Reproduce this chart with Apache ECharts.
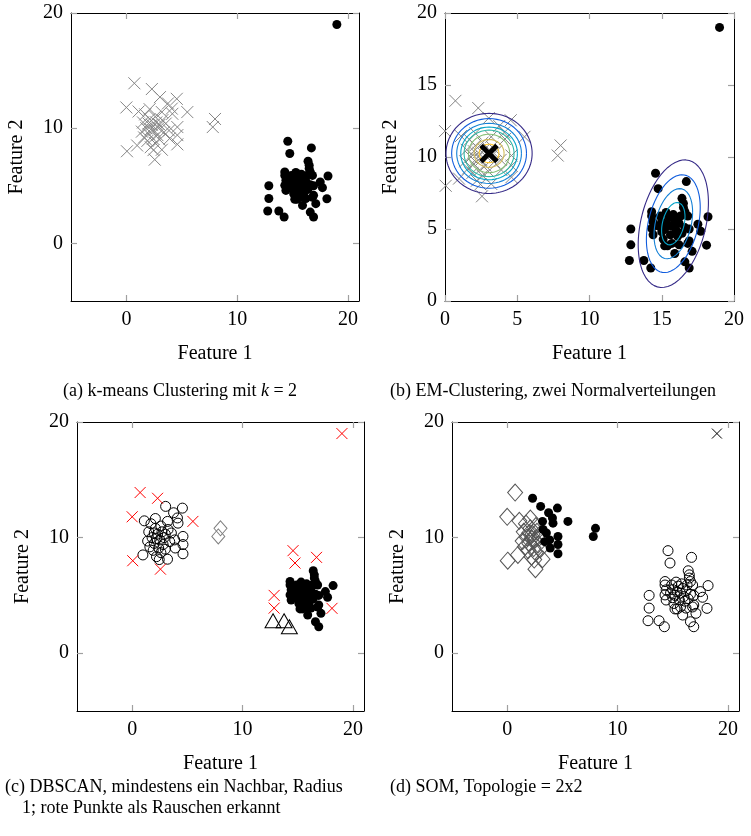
<!DOCTYPE html>
<html><head><meta charset="utf-8">
<script src="https://cdn.jsdelivr.net/npm/echarts@6/dist/echarts.min.js"></script>
<style>html,body{margin:0;padding:0;background:#fff}#c{width:751px;height:836px}</style>
</head><body><div id="c"></div>
<script>
// ---------- data ----------
const feature1 = [
  0.72, 2.3, 0.0, 0.05, 2.56, 5.5, 3.03, 4.55, 3.75, 4.1, 1.1, 0.97, 2.2, 3.2, 4.6, 4.6, 4.6, 3.9, 3.85, 3.4,
  3.25, 3.55, 3.2, 4.15, 2.1, 1.7, 1.5, 1.8, 2.0, 2.3, 2.5, 2.7, 2.4, 2.8, 1.6, 2.9, 2.1, 1.9, 2.6, 3.0,
  2.2, 1.4, 2.0, 2.6, 3.0, 2.45, 7.8, 8.0,
  14.57, 14.75, 16.7, 16.4, 16.5, 16.5, 16.6, 16.8, 18.2, 12.86, 12.86, 12.76, 13.76, 14.24, 18.1, 17.7, 17.5, 16.9, 16.6, 15.9,
  17.1, 16.9, 15.2, 15.4, 14.3, 14.3, 14.4, 14.3, 14.4, 15.3, 15.0, 15.2, 15.5, 15.7, 15.9, 16.0, 16.2, 15.6, 15.1, 16.3,
  15.8, 14.8, 16.1, 15.4, 16.6, 16.4, 15.0, 14.9, 16.9, 15.7, 16.2, 16.8, 19.0
];
const feature2 = [
  13.9, 13.4, 11.8, 8.0, 7.27, 11.4, 12.7, 12.55, 12.15, 11.7, 11.45, 8.5, 8.35, 8.13, 10.1, 9.4, 8.6, 9.1, 9.8, 9.65,
  10.7, 10.4, 11.4, 11.25, 11.65, 11.2, 10.5, 10.0, 9.5, 10.3, 9.8, 10.5, 9.1, 9.4, 9.2, 10.0, 10.8, 8.9, 8.7, 9.0,
  9.9, 9.7, 10.4, 11.0, 10.3, 8.1, 10.1, 10.8,
  8.87, 7.8, 8.29, 7.13, 6.78, 6.5, 6.2, 5.9, 5.85, 5.0, 3.9, 2.81, 2.81, 2.29, 3.88, 4.84, 5.33, 2.29, 2.72, 3.3,
  3.45, 4.17, 3.83, 3.83, 6.2, 5.9, 5.48, 5.04, 4.6, 6.15, 5.5, 5.0, 5.8, 5.2, 5.6, 4.9, 5.4, 4.6, 4.3, 5.9,
  6.0, 5.2, 4.5, 5.3, 5.1, 4.7, 4.8, 5.9, 5.0, 4.0, 3.9, 4.0, 19.0
];
// k-means / EM assignment: 0 = grey cross, 1 = black dot
const kmeansLabel = [
  0,0,0,0,0,0,0,0,0,0,0,0,0,0,0,0,0,0,0,0, 0,0,0,0,0,0,0,0,0,0,0,0,0,0,0,0,0,0,0,0, 0,0,0,0,0,0,0,0,
  1,1,1,1,1,1,1,1,1,1,1,1,1,1,1,1,1,1,1,1, 1,1,1,1,1,1,1,1,1,1,1,1,1,1,1,1,1,1,1,1, 1,1,1,1,1,1,1,1,1,1,1,1,1
];
// DBSCAN: 0 = noise (red cross), 1 = open circle, 2 = filled dot, 3 = diamond, 4 = triangle
const dbscanLabel = [
  0,0,0,0,0,0,1,1,1,1,1,1,1,1,1,1,1,1,1,1, 1,1,1,1,1,1,1,1,1,1,1,1,1,1,1,1,1,1,1,1, 1,1,1,1,1,1,3,3,
  0,0,0,2,2,2,2,2,2,0,0,4,4,4,0,2,2,2,2,2, 2,2,2,2,2,2,2,2,2,2,2,2,2,2,2,2,2,2,2,2, 2,2,2,2,2,2,2,2,2,2,2,2,0
];
// SOM: 0 = diamond, 1 = filled dot, 2 = open circle, 3 = cross
const somLabel = [
  0,1,0,0,0,1,1,1,1,1,0,0,0,0,1,1,1,1,1,1, 1,1,1,1,0,0,0,0,0,0,0,0,0,0,0,0,0,0,0,0, 0,0,0,0,0,0,1,1,
  2,2,2,2,2,2,2,2,2,2,2,2,2,2,2,2,2,2,2,2, 2,2,2,2,2,2,2,2,2,2,2,2,2,2,2,2,2,2,2,2, 2,2,2,2,2,2,2,2,2,2,2,2,3
];
// EM Gaussian components
const emMeans = [[3.05, 10.25], [15.8, 5.37]];
const emCovs = [[[1.0, 0.0], [0.0, 0.87]], [[0.656, 0.394], [0.394, 2.18]]];
const emContourRadii = [[2.98, 2.59, 2.24, 1.96, 1.73, 1.43, 1.04, 0.69], [3.0, 2.3, 1.65, 1.0]];
const contourColors = ['#352a87', '#0f5cdd', '#1481d6', '#06a4ca', '#2eb7a4', '#87bf77', '#d1bb59', '#fec832'];
const ticksWide = [0, 10, 20];
const ticksEM = [0, 5, 10, 15, 20];
const captions = [
  '(a) k-means Clustering mit k = 2',
  '(b) EM-Clustering, zwei Normalverteilungen',
  '(c) DBSCAN, mindestens ein Nachbar, Radius',
  '1; rote Punkte als Rauschen erkannt',
  '(d) SOM, Topologie = 2x2'
];

// ---------- chart ----------
const FONT = '"Liberation Serif", "DejaVu Serif", serif';
const CROSS = 'path://M0,0L10,10M10,0L0,10';
const DIAMOND = 'path://M5,0L10,5L5,10L0,5Z';
const TRI = 'path://M5,0L10,9L0,9Z';

const grids = [
  { left: 71, top: 13, width: 288, height: 288 },
  { left: 445, top: 13, width: 289, height: 288 },
  { left: 77, top: 422, width: 287, height: 289 },
  { left: 452, top: 422, width: 287, height: 289 }
];
const ranges = [
  { x: [-5, 21], y: [-5, 20], xt: ticksWide, yt: ticksWide },
  { x: [0, 20], y: [0, 20], xt: ticksEM, yt: ticksEM },
  { x: [-5, 21], y: [-5, 20], xt: ticksWide, yt: ticksWide },
  { x: [-5, 21], y: [-5, 20], xt: ticksWide, yt: ticksWide }
];

const xAxes = [], yAxes = [];
ranges.forEach((r, g) => {
  const tick = (vals) => ({ show: true, inside: true, length: 6, customValues: vals, lineStyle: { color: '#a0a0a0', width: 1.2 } });
  const line = { show: true, onZero: false, lineStyle: { color: '#000', width: 1 } };
  xAxes.push({
    gridIndex: g, type: 'value', min: r.x[0], max: r.x[1], position: 'bottom',
    axisLine: line, axisTick: tick(r.xt), splitLine: { show: false },
    axisLabel: { customValues: r.xt, color: '#000', fontFamily: FONT, fontSize: 20, margin: 9 },
    name: 'Feature 1', nameLocation: 'middle', nameGap: 43,
    nameTextStyle: { color: '#000', fontFamily: FONT, fontSize: 20 }
  });
  xAxes.push({
    gridIndex: g, type: 'value', min: r.x[0], max: r.x[1], position: 'top',
    axisLine: line, axisTick: tick(r.xt), splitLine: { show: false }, axisLabel: { show: false }
  });
  yAxes.push({
    gridIndex: g, type: 'value', min: r.y[0], max: r.y[1], position: 'left',
    axisLine: line, axisTick: tick(r.yt), splitLine: { show: false },
    axisLabel: { customValues: r.yt, color: '#000', fontFamily: FONT, fontSize: 20, margin: 8 },
    name: 'Feature 2', nameLocation: 'middle', nameGap: 44,
    nameTextStyle: { color: '#000', fontFamily: FONT, fontSize: 20 }
  });
  yAxes.push({
    gridIndex: g, type: 'value', min: r.y[0], max: r.y[1], position: 'right',
    axisLine: line, axisTick: tick(r.yt), splitLine: { show: false }, axisLabel: { show: false }
  });
});

function pts(labels, want) {
  const out = [];
  for (let i = 0; i < feature1.length; i++) if (labels[i] === want) out.push([feature1[i], feature2[i]]);
  return out;
}
function sc(g, data, symbol, size, fill, stroke, bw, z) {
  return {
    type: 'scatter', xAxisIndex: 2 * g, yAxisIndex: 2 * g, data, symbol, symbolSize: size,
    itemStyle: { color: fill, borderColor: stroke, borderWidth: bw, opacity: 1 },
    z: z || 2, silent: true, animation: false
  };
}
const NONE = 'rgba(0,0,0,0)';
const series = [];
// (a) k-means
series.push(sc(0, pts(kmeansLabel, 0), CROSS, 12, NONE, '#858585', 1));
series.push(sc(0, pts(kmeansLabel, 1), 'circle', 9, '#000', '#000', 0));
// (b) EM
series.push(sc(1, pts(kmeansLabel, 0), CROSS, 12, NONE, '#858585', 1));
series.push(sc(1, pts(kmeansLabel, 1), 'circle', 9, '#000', '#000', 0));
emMeans.forEach((m, k) => {
  const c = emCovs[k];
  const l11 = Math.sqrt(c[0][0]);
  const l21 = c[1][0] / l11;
  const l22 = Math.sqrt(c[1][1] - l21 * l21);
  emContourRadii[k].forEach((r, j) => {
    const data = [];
    for (let s = 0; s <= 120; s++) {
      const t = 2 * Math.PI * s / 120;
      const u = r * Math.cos(t), v = r * Math.sin(t);
      data.push([m[0] + l11 * u, m[1] + l21 * u + l22 * v]);
    }
    series.push({
      type: 'line', xAxisIndex: 2, yAxisIndex: 2, data, showSymbol: false, smooth: false,
      lineStyle: { color: contourColors[j], width: 1.1 }, z: 3, silent: true, animation: false
    });
  });
});
series.push(sc(1, [emMeans[0]], CROSS, 16, NONE, '#000', 5, 5));
// (c) DBSCAN
series.push(sc(2, pts(dbscanLabel, 1), 'circle', 10, NONE, '#000', 1));
series.push(sc(2, pts(dbscanLabel, 2), 'circle', 9, '#000', '#000', 0));
series.push(sc(2, pts(dbscanLabel, 3), DIAMOND, [13, 15], NONE, '#808080', 1));
series.push(sc(2, pts(dbscanLabel, 4), TRI, [16, 14], NONE, '#000', 1));
series.push(sc(2, pts(dbscanLabel, 0), CROSS, 11, NONE, '#ff0000', 1, 4));
// (d) SOM
series.push(sc(3, pts(somLabel, 0), DIAMOND, [15, 17], NONE, '#555', 1));
series.push(sc(3, pts(somLabel, 1), 'circle', 9, '#000', '#000', 0));
series.push(sc(3, pts(somLabel, 2), 'circle', 10, NONE, '#000', 1));
series.push(sc(3, pts(somLabel, 3), CROSS, 10, NONE, '#000', 1));

const capStyle = (x, y, text, rich) => ({
  type: 'text', left: x, top: y, silent: true,
  style: { text, fill: '#000', font: '18px ' + FONT, rich }
});
const graphic = [
  {
    type: 'text', left: 63, top: 382, silent: true,
    style: {
      text: '{n|(a) k-means Clustering mit }{i|k}{n| = 2}',
      rich: {
        n: { fontFamily: FONT, fontSize: 18, fill: '#000' },
        i: { fontFamily: FONT, fontSize: 18, fontStyle: 'italic', fill: '#000' }
      }
    }
  },
  capStyle(390, 382, captions[1]),
  capStyle(5, 778, captions[2]),
  capStyle(22, 799, captions[3]),
  capStyle(390, 778, captions[4])
];

const chart = echarts.init(document.getElementById('c'), null, { renderer: 'canvas' });
chart.setOption({
  animation: false,
  backgroundColor: '#fff',
  grid: grids,
  xAxis: xAxes,
  yAxis: yAxes,
  series,
  graphic
});
</script>
</body></html>
